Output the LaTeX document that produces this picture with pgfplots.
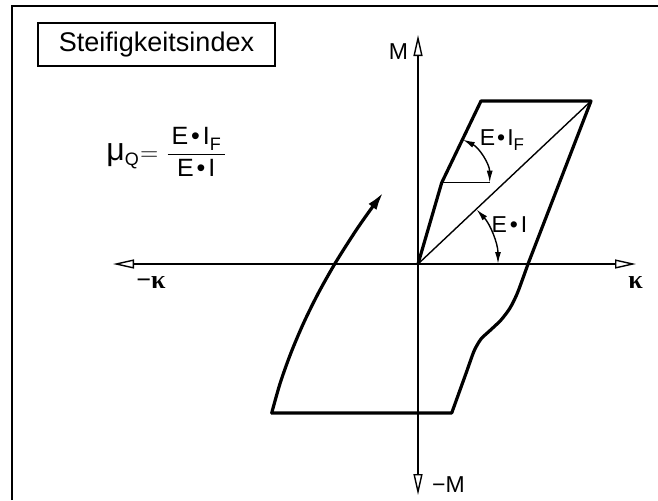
\documentclass[border=0pt]{standalone}
\usepackage{pgfplots}
\pgfplotsset{compat=1.18}
\usetikzlibrary{arrows.meta}
\usepackage{fontspec}
\setmainfont{Liberation Sans}
\newfontfamily\serif{Liberation Serif}
\begin{document}
\begin{tikzpicture}
\begin{axis}[width=329pt,height=250pt,scale only axis,
  xmin=-418,xmax=240,ymin=-236,ymax=264,
  hide axis, clip=false]
\coordinate (SW) at (rel axis cs:0,0);
\coordinate (NE) at (rel axis cs:1,1);
% frame
\addplot[black, line width=1.4pt] coordinates {(-406,-236) (-406,258) (240,258)};
% axes
\addplot[black, line width=0.7pt, {Triangle[open,length=10.5pt,width=4.5pt]}-{Triangle[open,length=10.5pt,width=4.5pt]}] coordinates {(-305,0) (218,0)};
\addplot[black, line width=0.7pt, {Triangle[open,length=10.5pt,width=4.5pt]}-{Triangle[open,length=10.5pt,width=4.5pt]}] coordinates {(0,-231) (0,229)};
% thin lines
\addplot[black, line width=0.7pt] coordinates {(0,0) (173,163)};
\addplot[black, line width=0.7pt] coordinates {(23.7,81.3) (72,81.3)};
% hysteresis loop
\addplot[black, line width=1.6pt, line join=round, line cap=round] coordinates {(0,0) (23.7,81.3) (63,163) (173,163) (110,0)};
\addplot[black, line width=1.6pt, smooth, line cap=round] coordinates {(110,0) (105,-14) (99,-30) (92,-44) (83,-56) (72,-66.5) (63,-75) (56.5,-86) (52,-98) (48.5,-108)};
\addplot[black, line width=1.6pt, line join=round, line cap=round] coordinates {(48.5,-108) (33.7,-149) (-146.3,-149)};
\addplot[black, line width=1.6pt, smooth, line cap=round, -{Latex[length=9pt,width=5pt]}] coordinates {(-146.3,-149) (-137.8,-119) (-127.1,-89) (-114.4,-59) (-99.6,-29) (-82.7,1) (-63.7,31) (-49.9,51) (-34.7,71.6)};
% angle arcs
\draw[black, line width=0.7pt, {Latex[length=6pt,width=3pt]}-{Latex[length=6pt,width=3pt]}] (axis cs:23.7,81.3) ++(0:24pt) arc[start angle=0,end angle=64,radius=24pt];
\draw[black, line width=0.7pt, {Latex[length=6pt,width=3pt]}-{Latex[length=6pt,width=3pt]}] (axis cs:0,0) ++(0:40pt) arc[start angle=0,end angle=43,radius=40pt];
% labels
\node[draw, line width=0.6pt, minimum width=118.5pt, minimum height=21.5pt, inner sep=0pt, font=\fontsize{13.5}{16}\selectfont] at (axis cs:-261.5,219.5) {Steifigkeitsindex};
\node[anchor=west, inner sep=0pt, font=\fontsize{12.5}{15}\selectfont] at (axis cs:-312,112) {{\fontsize{16}{18}\selectfont μ}{\fontsize{9}{10}\selectfont\raisebox{-0.5ex}{Q}}$\mkern1mu{=}\mkern5mu\displaystyle\frac{\hbox{\kern2ptE\kern1.5pt•\kern1.5ptI\raisebox{-0.45ex}{\fontsize{9}{10}\selectfont F}\kern2pt}}{\hbox{E\kern1.5pt•\kern1.5ptI}}$};
\node[inner sep=0pt, font=\fontsize{11.5}{14}\selectfont] at (axis cs:-19.5,212.6) {M};
\node[inner sep=0pt, font=\fontsize{11.5}{14}\selectfont] at (axis cs:30.5,-220.7) {−M};
\node[inner sep=0pt, font=\fontsize{13}{15}\selectfont\serif\bfseries] at (axis cs:-267,-19) {−κ};
\node[inner sep=0pt, font=\fontsize{13}{15}\selectfont\serif\bfseries] at (axis cs:217.5,-19) {κ};
\node[inner sep=0pt, font=\fontsize{11.5}{14}\selectfont] at (axis cs:84,124) {E\kern1pt•\kern1ptI\raisebox{-0.45ex}{\fontsize{8.5}{9}\selectfont F}};
\node[inner sep=0pt, font=\fontsize{11.5}{14}\selectfont] at (axis cs:91.5,39.3) {E\kern1.5pt•\kern1.5ptI};
\end{axis}
\pgfresetboundingbox
\useasboundingbox (SW) rectangle (NE);
\end{tikzpicture}
\end{document}
